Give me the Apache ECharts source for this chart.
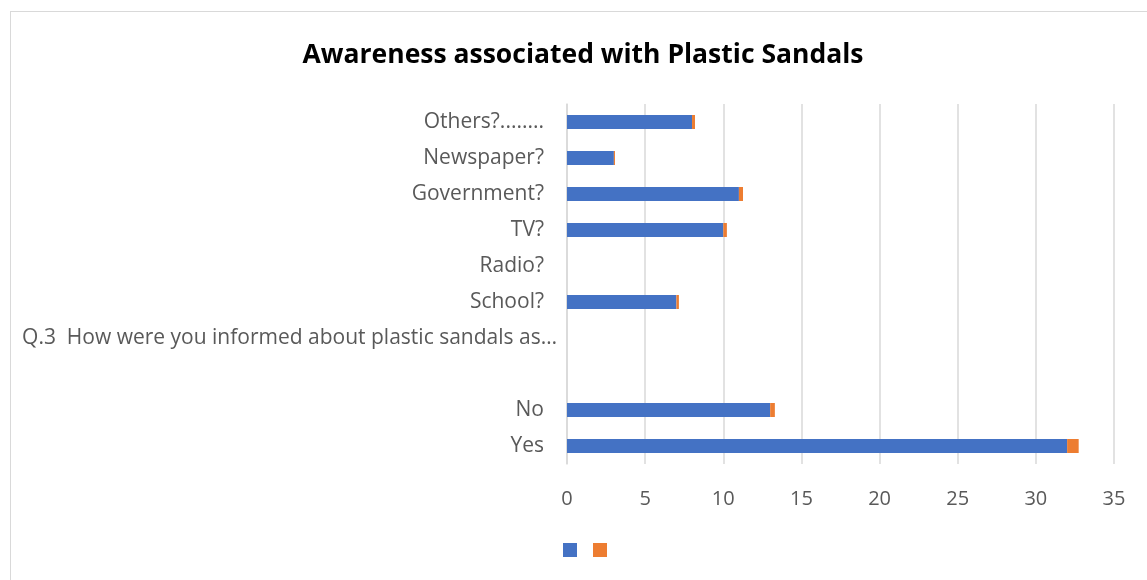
<!DOCTYPE html>
<html>
<head>
<meta charset="utf-8">
<script src="https://cdn.jsdelivr.net/npm/echarts@6/dist/echarts.min.js"></script>
<style>
  html, body { margin: 0; padding: 0; background: #fff; }
  #main { width: 1147px; height: 580px; position: relative; }
  #frame { position: absolute; left: 10px; top: 11px; width: 1160px; height: 600px;
           border: 1px solid #d9d9d9; box-sizing: border-box; pointer-events: none; }
</style>
</head>
<body>
<div id="main"></div>
<div id="frame"></div>
<script>
// categories from bottom to top
const categories = ['Yes', 'No', ' ', 'Q.3  How were you informed about plastic sandals as\u2026',
  'School?', 'Radio?', 'TV?', 'Government?', 'Newspaper?', 'Others?........'];
const blueValues = [32, 13, null, null, 7, null, 10, 11, 3, 8];
const orangeValues = [0.74, 0.3, null, null, 0.16, null, 0.23, 0.26, 0.07, 0.19];
const xTicks = [0, 5, 10, 15, 20, 25, 30, 35];

var myChart = echarts.init(document.getElementById('main'));

var option = {
  animation: false,
  title: {
    text: 'Awareness associated with Plastic Sandals',
    left: 578,
    textAlign: 'center',
    top: 37,
    textStyle: { fontFamily: 'Open Sans', fontSize: 26.5, fontWeight: 'bold', color: '#000' }
  },
  legend: {
    data: ['Series1', 'Series2'],
    left: 563,
    top: 543,
    padding: 0,
    itemWidth: 14,
    itemHeight: 14,
    itemGap: 16,
    icon: 'rect',
    formatter: function () { return ''; }
  },
  grid: { left: 567, right: 33, top: 104, bottom: 116 },
  xAxis: {
    type: 'value',
    min: xTicks[0],
    max: xTicks[xTicks.length - 1],
    interval: 5,
    axisLine: { show: false },
    axisTick: { show: false },
    splitLine: { show: true, lineStyle: { color: '#d9d9d9', width: 1.5 } },
    axisLabel: { margin: 25, fontFamily: 'Open Sans', fontSize: 20, color: '#595959' }
  },
  yAxis: {
    type: 'category',
    data: categories,
    axisLine: { show: true, lineStyle: { color: '#d9d9d9', width: 1.5 } },
    axisTick: { show: false },
    axisLabel: {
      margin: 23, fontFamily: 'Open Sans', fontSize: 21, color: '#595959',
      formatter: function (v) {
        return v.indexOf('Q.3') === 0 ? '{q|' + v + '}' : v;
      },
      rich: {
        q: { fontFamily: 'Open Sans', fontSize: 21, color: '#595959', padding: [0, -13, 0, 0] }
      }
    }
  },
  series: [
    {
      name: 'Series1',
      type: 'bar',
      stack: 'Total',
      barWidth: 14,
      itemStyle: { color: '#4472c4' },
      data: blueValues
    },
    {
      name: 'Series2',
      type: 'bar',
      stack: 'Total',
      barWidth: 14,
      itemStyle: { color: '#ed7d31' },
      data: orangeValues
    }
  ]
};

option && myChart.setOption(option);
</script>
</body>
</html>
